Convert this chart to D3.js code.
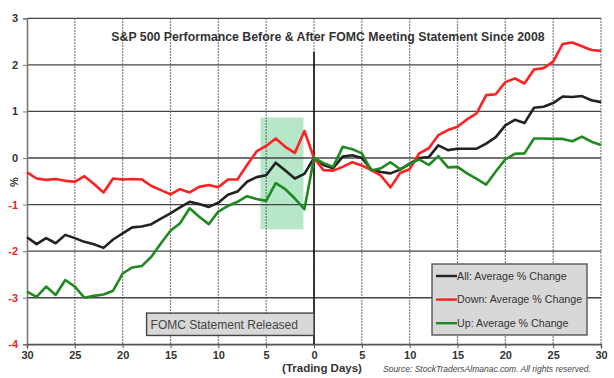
<!DOCTYPE html>
<html>
  <head>
    <meta charset="utf-8">
    <title>S&amp;P 500 FOMC</title>
    <script src="https://d3js.org/d3.v7.min.js"></script>
    <style>
      body { margin: 0; background: #fff; }
      svg { display: block; font-family: 'Liberation Sans', Arial, sans-serif; }
      .grid-h { stroke: #444; stroke-width: 1.3; }
      .grid-v { stroke: #555; stroke-width: 1.2; stroke-dasharray: 1.5,1.5; }
      .tick-lbl { font-size: 11px; font-weight: bold; fill: #333; }
      .series { fill: none; stroke-width: 2.6; stroke-linejoin: round; }
    </style>
  </head>
  <body>
    <svg id="svg" width="614" height="378"></svg>
    <script>
// trading days before (-) and after (+) the statement
var days = d3.range(-30, 31);

var allChange = [
  -1.70, -1.85, -1.72, -1.83, -1.65, -1.72, -1.80, -1.85, -1.93, -1.75,
  -1.62, -1.49, -1.47, -1.42, -1.30, -1.19, -1.06, -0.94, -0.99, -1.05,
  -0.96, -0.79, -0.72, -0.51, -0.41, -0.37, -0.10, -0.27, -0.44, -0.34,
  0,
  -0.15, -0.22, 0.03, 0.06, 0.00, -0.25, -0.30, -0.33, -0.25, -0.12,
  0.00, 0.02, 0.27, 0.17, 0.20, 0.20, 0.20, 0.31, 0.45, 0.70,
  0.82, 0.75, 1.08, 1.10, 1.18, 1.32, 1.31, 1.33, 1.24, 1.20
];
var downChange = [
  -0.31, -0.44, -0.47, -0.45, -0.49, -0.51, -0.39, -0.56, -0.74, -0.44,
  -0.46, -0.45, -0.46, -0.60, -0.69, -0.78, -0.67, -0.74, -0.62, -0.58,
  -0.63, -0.46, -0.46, -0.15, 0.14, 0.26, 0.42, 0.24, 0.11, 0.58,
  0,
  -0.26, -0.27, -0.19, -0.09, -0.16, -0.26, -0.38, -0.63, -0.32, -0.24,
  0.10, 0.21, 0.49, 0.60, 0.67, 0.83, 0.96, 1.35, 1.37, 1.63,
  1.71, 1.60, 1.90, 1.93, 2.07, 2.45, 2.48, 2.40, 2.32, 2.30
];
var upChange = [
  -2.87, -2.98, -2.76, -2.94, -2.62, -2.76, -3.00, -2.96, -2.93, -2.85,
  -2.48, -2.35, -2.32, -2.12, -1.83, -1.56, -1.40, -1.08, -1.26, -1.42,
  -1.15, -1.03, -0.94, -0.82, -0.88, -0.92, -0.54, -0.67, -0.87, -1.10,
  0,
  -0.11, -0.19, 0.24, 0.19, 0.10, -0.27, -0.22, -0.09, -0.24, -0.13,
  -0.03, -0.15, 0.04, -0.20, -0.19, -0.33, -0.45, -0.57, -0.29, -0.03,
  0.09, 0.10, 0.42, 0.42, 0.41, 0.41, 0.36, 0.46, 0.35, 0.28
];

var xTicks = [-30, -25, -20, -15, -10, -5, 0, 5, 10, 15, 20, 25, 30];
var yTicks = [-4, -3, -2, -1, 0, 1, 2, 3];
var seriesNames = ["All: Average % Change", "Down: Average % Change", "Up: Average % Change"];
var seriesColors = ["#222222", "#ff2020", "#1f8a1f"];

// shaded window before the meeting (days, %)
var shadeDays = [-5.6, -1.1];
var shadePct = [-1.53, 0.87];

var svg = d3.select('#svg');

var x = d3.scaleLinear().domain([-30, 30]).range([27, 601]);
var y = d3.scaleLinear().domain([-4, 3]).range([344.3, 18.3]);

// shading
svg.append('rect')
  .attr('x', x(shadeDays[0]))
  .attr('y', y(shadePct[1]))
  .attr('width', x(shadeDays[1]) - x(shadeDays[0]))
  .attr('height', y(shadePct[0]) - y(shadePct[1]))
  .style('fill', '#a9e3c0')
  .style('opacity', 0.85);

// grid
svg.selectAll('.grid-h')
  .data(yTicks)
  .enter()
  .append('line')
  .attr('class', 'grid-h')
  .attr('x1', x(-30)).attr('x2', x(30))
  .attr('y1', function(d) { return y(d); })
  .attr('y2', function(d) { return y(d); });

svg.selectAll('.grid-v')
  .data(xTicks.filter(function(d) { return d != -30; }))
  .enter()
  .append('line')
  .attr('class', 'grid-v')
  .attr('y1', y(3)).attr('y2', y(-4))
  .attr('x1', function(d) { return x(d); })
  .attr('x2', function(d) { return x(d); });

// left axis
var yAxis = d3.axisLeft(y).tickValues(yTicks).tickSize(4).tickFormat(function(d) { return d; });
var gy = svg.append('g').attr('transform', 'translate(' + x(-30) + ',0)').call(yAxis);
gy.select('.domain').style('stroke', '#777').style('stroke-width', 1.6);
gy.selectAll('.tick line').style('stroke', '#777');
gy.selectAll('.tick text')
  .attr('class', 'tick-lbl')
  .attr('x', -9)
  .style('font-family', 'Liberation Sans, Arial, sans-serif')
  .style('fill', function(d) { return d < 0 ? '#ee2222' : '#333'; });

// bottom axis
var xAxis = d3.axisBottom(x).tickValues(xTicks).tickSize(4).tickFormat(function(d) { return Math.abs(d); });
var gx = svg.append('g').attr('transform', 'translate(0,' + y(-4) + ')').call(xAxis);
gx.select('.domain').style('stroke', '#555').style('stroke-width', 1.4);
gx.selectAll('.tick line').style('stroke', '#555');
gx.selectAll('.tick text')
  .attr('class', 'tick-lbl')
  .attr('y', 7)
  .style('font-family', 'Liberation Sans, Arial, sans-serif');

// statement day line
svg.append('line')
  .attr('x1', x(0)).attr('x2', x(0))
  .attr('y1', y(2.28)).attr('y2', y(-4))
  .style('stroke', '#111')
  .style('stroke-width', 1.6);

// series
var line = d3.line()
  .x(function(d, i) { return x(days[i]); })
  .y(function(d) { return y(d); });

[allChange, downChange, upChange].forEach(function(vals, i) {
  svg.append('path')
    .attr('class', 'series')
    .attr('d', line(vals))
    .style('stroke', seriesColors[i]);
});

// statement box
var bx = svg.append('g');
bx.append('rect')
  .attr('x', x(-17.5)).attr('y', y(-3.33))
  .attr('width', x(0) - x(-17.5)).attr('height', y(-3.81) - y(-3.33))
  .style('fill', '#d8d8d8').style('stroke', '#444').style('stroke-width', 1.4);
bx.append('text')
  .attr('x', x(-17.5) + 4).attr('y', y(-3.57) + 4.5)
  .style('font-size', '12px').style('fill', '#444')
  .text('FOMC Statement Released');

// legend
var lg = svg.append('g');
lg.append('rect')
  .attr('x', 432).attr('y', 264).attr('width', 155).attr('height', 71)
  .style('fill', '#d8d8d8').style('stroke', '#555').style('stroke-width', 1.4);
seriesNames.forEach(function(name, i) {
  var ly = 276 + i * 23.6;
  lg.append('line')
    .attr('x1', 436).attr('x2', 457).attr('y1', ly).attr('y2', ly)
    .style('stroke', seriesColors[i]).style('stroke-width', 2.4);
  lg.append('text')
    .attr('x', 457).attr('y', ly + 3.8)
    .style('font-size', '10.7px').style('fill', '#333')
    .text(name);
});

// titles
svg.append('text')
  .attr('x', 328).attr('y', 41)
  .attr('text-anchor', 'middle')
  .style('font-size', '12.3px').style('font-weight', 'bold').style('fill', '#333')
  .text('S&P 500 Performance Before & After FOMC Meeting Statement Since 2008');

svg.append('text')
  .attr('transform', 'translate(18,182) rotate(-90)')
  .attr('text-anchor', 'middle')
  .style('font-size', '11px').style('font-weight', 'bold').style('fill', '#333')
  .text('%');

svg.append('text')
  .attr('x', 322).attr('y', 372)
  .attr('text-anchor', 'middle')
  .style('font-size', '11.5px').style('font-weight', 'bold').style('fill', '#333')
  .text('(Trading Days)');

svg.append('text')
  .attr('x', 383).attr('y', 372)
  .style('font-size', '8.5px').style('font-style', 'italic').style('fill', '#444')
  .text('Source: StockTradersAlmanac.com. All rights reserved.');
    </script>
  </body>
</html>
